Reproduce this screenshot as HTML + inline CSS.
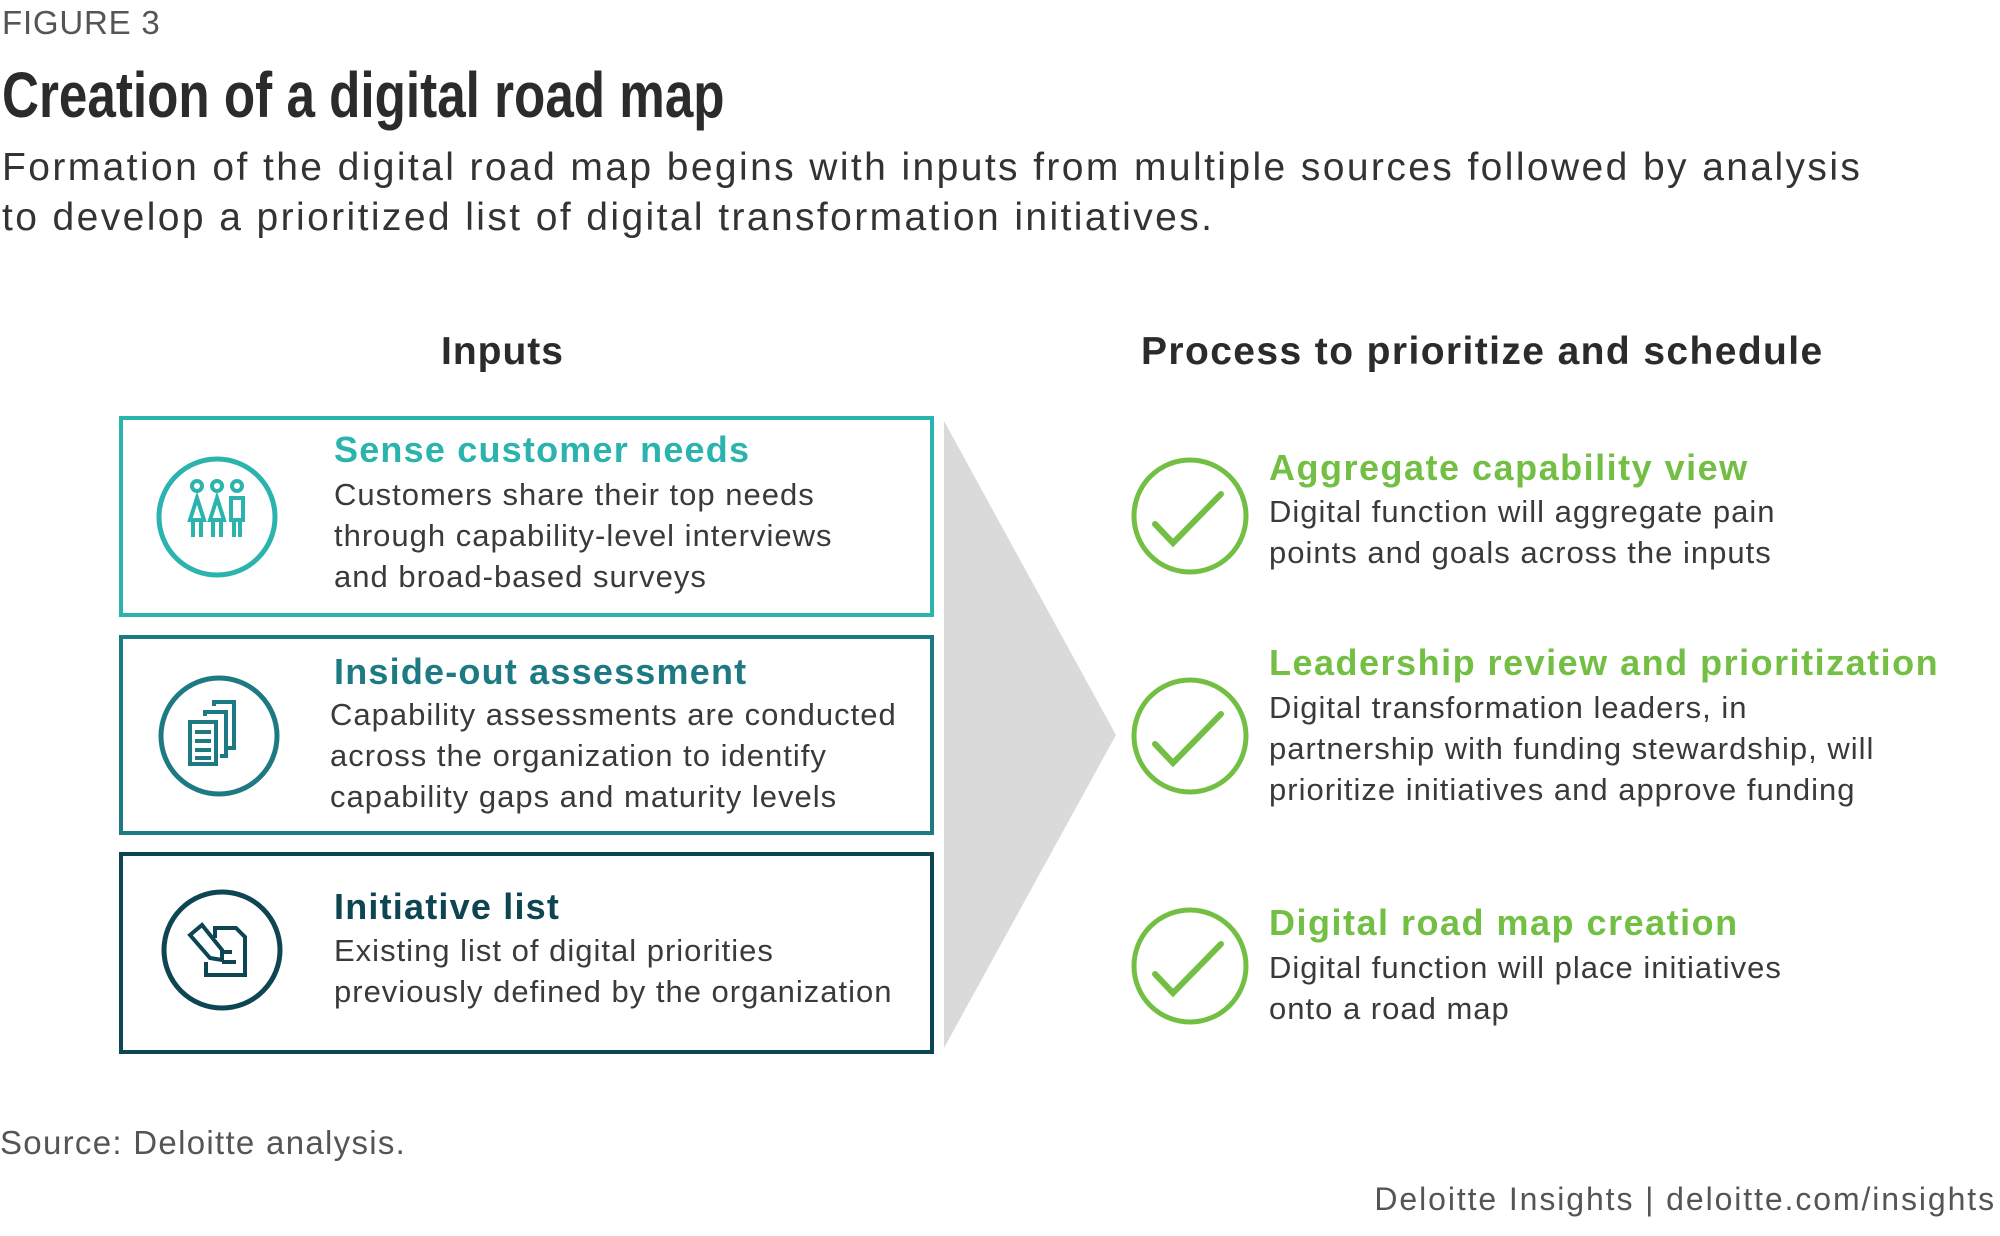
<!DOCTYPE html>
<html><head><meta charset="utf-8"><style>
body{margin:0;width:2000px;height:1236px;background:#fff;position:relative;overflow:hidden;font-family:"Liberation Sans",sans-serif;color:#333}
.t{position:absolute;white-space:nowrap}
.b{font-size:31px;line-height:41px;color:#3a3a3a;letter-spacing:1px}
.h{font-size:36px;font-weight:bold;line-height:44px;letter-spacing:1.2px}
.box{position:absolute;left:119px;width:815px;box-sizing:border-box;border:4px solid}
</style></head><body>
<div class="t" style="left:2px;top:4px;font-size:33px;color:#555;letter-spacing:0.8px">FIGURE 3</div>
<div class="t" style="left:2px;top:58px;font-size:64px;font-weight:bold;color:#2b2b2b;transform:scaleX(0.8);transform-origin:0 0">Creation of a digital road map</div>
<div class="t" style="left:2px;top:143px;font-size:39px;line-height:50px;color:#333;letter-spacing:2.4px">Formation of the digital road map begins with inputs from multiple sources followed by analysis<br>to develop a prioritized list of digital transformation initiatives.</div>
<div class="t" style="left:441px;top:330px;font-size:39px;font-weight:bold;color:#2b2b2b;letter-spacing:1px">Inputs</div>
<div class="t" style="left:1141px;top:330px;font-size:39px;font-weight:bold;color:#2b2b2b;letter-spacing:1.4px">Process to prioritize and schedule</div>

<svg style="position:absolute;left:0;top:0" width="2000" height="1236">
<polygon points="944,421 1116,735 944,1048" fill="#dadada"/>
<g fill="none" stroke-width="5">
<circle cx="217" cy="517" r="58" stroke="#2bb3ae"/>
<circle cx="219" cy="736" r="58" stroke="#1e7a82"/>
<circle cx="222" cy="950" r="58" stroke="#0e4552"/>
<circle cx="1190" cy="516" r="56" stroke="#72bf44"/>
<circle cx="1190" cy="736" r="56" stroke="#72bf44"/>
<circle cx="1190" cy="966" r="56" stroke="#72bf44"/>
<g stroke="#72bf44" stroke-width="6" stroke-linecap="round"><polyline points="1155,524 1173,543 1221,494"/><polyline points="1155,744 1173,763 1221,714"/><polyline points="1155,974 1173,993 1221,944"/></g>
<g stroke="#2bb3ae" stroke-width="4"><circle cx="197" cy="486" r="5"/><circle cx="217" cy="486" r="5"/><circle cx="237" cy="486" r="5"/>
<path d="M190,520 L197,498 L204,520 Z M210,520 L217,498 L224,520 Z M231,498 H243 V520 H231 Z M193,520 V537 M201,520 V537 M213,520 V537 M221,520 V537 M234,520 V537 M240,520 V537"/></g>
<g stroke="#1e7a82" stroke-width="4"><rect x="190" y="722" width="26" height="42"/><path d="M205,716 V712 H226 V756 H220 M214,706 V702 H234 V748 H228"/><path d="M195,732 H211 M195,741 H211 M195,750 H211 M195,758 H211"/></g>
<g stroke="#0e4552" stroke-width="4"><path d="M215,938 V928 H236 L245,937 V975 H206 V962"/><path d="M190,935 L202,925 L222,950 L222,960 L210,958 Z M222,952 H232 M222,962 H236"/></g>
</g></svg>

<div class="box" style="top:416px;height:201px;border-color:#2bb3ae"></div>
<div class="box" style="top:635px;height:200px;border-color:#1e7a82"></div>
<div class="box" style="top:852px;height:202px;border-color:#0e4552"></div>

<div class="t h" style="left:334px;top:428px;color:#2bb3ae">Sense customer needs</div>
<div class="t b" style="left:334px;top:474px">Customers share their top needs<br>through capability-level interviews<br>and broad-based surveys</div>
<div class="t h" style="left:334px;top:650px;color:#1e7a82">Inside-out assessment</div>
<div class="t b" style="left:330px;top:694px">Capability assessments are conducted<br>across the organization to identify<br>capability gaps and maturity levels</div>
<div class="t h" style="left:334px;top:885px;color:#0e4552">Initiative list</div>
<div class="t b" style="left:334px;top:930px">Existing list of digital priorities<br>previously defined by the organization</div>

<div class="t h" style="left:1269px;top:446px;color:#72bf44;letter-spacing:1.5px">Aggregate capability view</div>
<div class="t b" style="left:1269px;top:491px">Digital function will aggregate pain<br>points and goals across the inputs</div>
<div class="t h" style="left:1269px;top:641px;color:#72bf44;letter-spacing:1.5px">Leadership review and prioritization</div>
<div class="t b" style="left:1269px;top:687px">Digital transformation leaders, in<br>partnership with funding stewardship, will<br>prioritize initiatives and approve funding</div>
<div class="t h" style="left:1269px;top:901px;color:#72bf44;letter-spacing:1.5px">Digital road map creation</div>
<div class="t b" style="left:1269px;top:947px">Digital function will place initiatives<br>onto a road map</div>

<div class="t" style="left:0;top:1124px;font-size:33px;color:#555;letter-spacing:1.3px">Source: Deloitte analysis.</div>
<div class="t" style="right:4px;top:1181px;font-size:32px;color:#555;letter-spacing:1.9px">Deloitte Insights | deloitte.com/insights</div>
</body></html>
